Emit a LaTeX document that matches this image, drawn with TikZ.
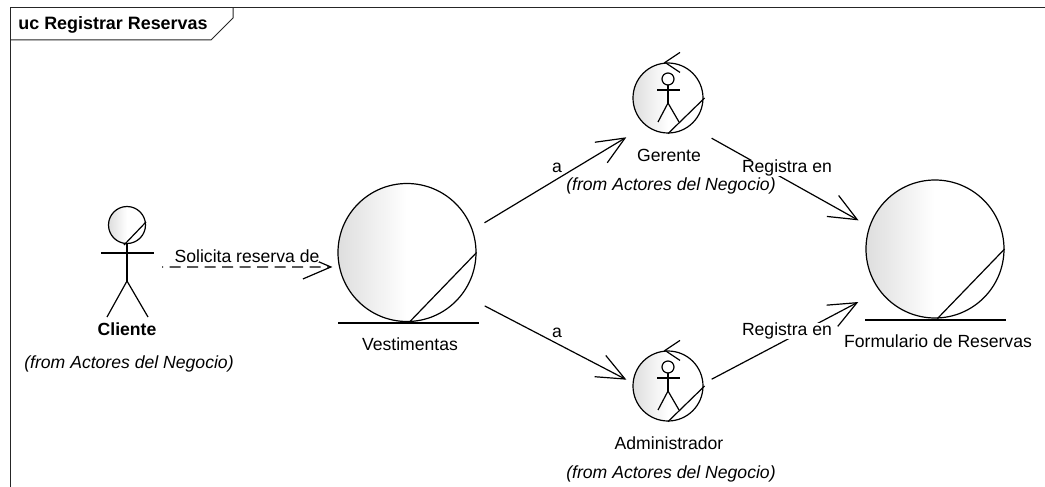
\documentclass[tikz,border=0pt]{standalone}
\usepackage{fontspec}
\setmainfont{Liberation Sans}
\usetikzlibrary{arrows.meta}

\tikzset{
  umltext/.style={font=\fontsize{17.6}{20}\selectfont,inner sep=0pt},
  fromtext/.style={umltext,font=\fontsize{17.6}{20}\selectfont\itshape},
  shaded circle/.style={circle,draw,line width=1.2pt,inner sep=0pt,left color=black!13,right color=white,middle color=white},
  figline/.style={line width=1.2pt},
  assoc/.style={line width=1.2pt,-{Straight Barb[length=28pt,width=24pt]}},
}

\begin{document}
\begin{tikzpicture}[x=1pt,y=-1pt]
  \useasboundingbox (0,0) rectangle (1045,487);

  % frame
  \draw[line width=1pt,black!85] (10,487) -- (10,8) -- (1045,8);
  \draw[line width=1pt,black!85] (10,40) -- (211,40) -- (233,18) -- (233,8);
  \node[umltext,font=\fontsize{17.9}{20}\selectfont\bfseries] (title) at (113,25) {uc Registrar Reservas};

  % circles
  \begin{scope}[every node/.style={shaded circle}]
    \node[minimum size=37pt] (cliente) at (127,225) {};
    \node[minimum size=138pt] (vestimentas) at (407,252.5) {};
    \node[minimum size=70pt] (gerente) at (668,98) {};
    \node[minimum size=70pt] (administrador) at (668,386) {};
    \node[minimum size=138pt] (formulario) at (935,249) {};
  \end{scope}

  % the actor
  \draw[figline] (124,245) -- (146,222);
  \draw[figline] (101,253) -- (154,253);
  \draw[figline] (127,243) -- (127,281);
  \draw[figline] (107,317) -- (127,281) -- (148,317);

  % entities
  \draw[figline] (vestimentas.-88) -- (vestimentas.0);
  \draw[figline] (338,323) -- (479,323);
  \draw[figline] (formulario.-88) -- (formulario.0);
  \draw[figline] (865,320) -- (1006,320);

  % controls
  \foreach \who in {gerente,administrador} {
    \draw[figline] ([shift={(12,-10)}]\who.north) -- ([shift={(-3,0)}]\who.north) -- ([shift={(12,10)}]\who.north);
    \draw[figline] ([shift={(0,0)}]\who.south) -- ([shift={(1,0)}]\who.east);
    \draw[figline] ([shift={(0,-19)}]\who.center) circle (6);
    \draw[figline] ([shift={(-11,-8)}]\who.center) -- ([shift={(12,-8)}]\who.center);
    \draw[figline] ([shift={(0,-13)}]\who.center) -- ([shift={(0,5)}]\who.center);
    \draw[figline] ([shift={(-10,24)}]\who.center) -- ([shift={(0,5)}]\who.center) -- ([shift={(11,24)}]\who.center);
  }

  % connectors
  \coordinate (clienteout) at (162,267);
  \draw[assoc,dash pattern=on 11pt off 6.5pt,dash phase=10pt,shorten >=6.5pt] (clienteout) -- (vestimentas.192);
  \draw[assoc,shorten <=13.7pt,shorten >=22.5pt] (vestimentas.19) -- (gerente.231.6);
  \draw[assoc,shorten <=25pt,shorten >=6.9pt] (vestimentas.-37.5) -- (administrador.175.4);
  \draw[assoc,shorten <=24.9pt,shorten >=12.2pt] (gerente.-52.5) -- (formulario.161.4);
  \draw[assoc,shorten <=9.2pt,shorten >=23.9pt] (administrador.4.4) -- (formulario.217.5);

  % labels
  \begin{scope}[every node/.style={umltext}]
    \node[fill=white] (solicita) at (247,256) {Solicita reserva de};
    \node (a1) at (557,168) {a};
    \node (a2) at (557,333) {a};
    \node[fill=white] (registra1) at (787,168) {Registra en};
    \node[fill=white] (registra2) at (787,331) {Registra en};
    \node[font=\fontsize{17.6}{20}\selectfont\bfseries] (clientelabel) at (127,329) {Cliente};
    \node (vestlabel) at (410,344) {Vestimentas};
    \node (gerentelabel) at (669,155) {Gerente};
    \node (adminlabel) at (669,443) {Administrador};
    \node (formlabel) at (938,341) {Formulario de Reservas};
  \end{scope}

  \begin{scope}[every node/.style={fromtext}]
    \node (from1) at (129,364) {(from Actores del Negocio)};
    \node (from2) at (671,186) {(from Actores del Negocio)};
    \node (from3) at (671,474) {(from Actores del Negocio)};
  \end{scope}

\end{tikzpicture}
\end{document}
